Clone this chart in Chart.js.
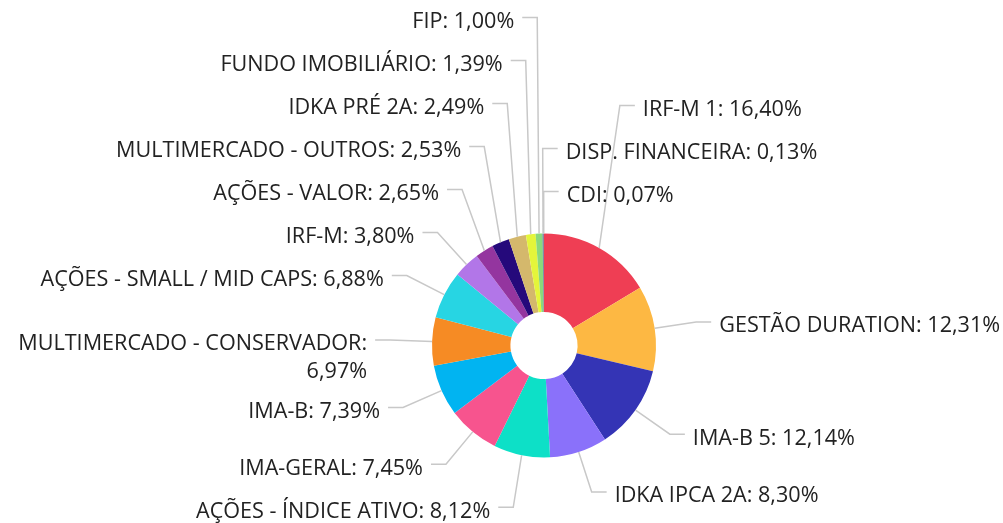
<!DOCTYPE html>
<html>
<head>
<meta charset="utf-8">
<script src="https://cdn.jsdelivr.net/npm/chart.js@4.4.1/dist/chart.umd.min.js"></script>
<style>
  html, body { margin: 0; padding: 0; background: #fff; }
</style>
</head>
<body>
<canvas id="carteiraChart" width="1003" height="523"></canvas>
<script>
// alocacao da carteira por segmento (%)
var segmentos = ['IRF-M 1', 'GESTÃO DURATION', 'IMA-B 5', 'IDKA IPCA 2A', 'AÇÕES - ÍNDICE ATIVO',
    'IMA-GERAL', 'IMA-B', 'MULTIMERCADO - CONSERVADOR', 'AÇÕES - SMALL / MID CAPS', 'IRF-M',
    'AÇÕES - VALOR', 'MULTIMERCADO - OUTROS', 'IDKA PRÉ 2A', 'FUNDO IMOBILIÁRIO', 'FIP',
    'DISP. FINANCEIRA', 'CDI'];
var percentuais = [16.40, 12.31, 12.14, 8.30, 8.12, 7.45, 7.39, 6.97, 6.88, 3.80,
    2.65, 2.53, 2.49, 1.39, 1.00, 0.13, 0.07];
var cores = ['#EF3E54', '#FDB843', '#3434B5', '#8A71FA', '#0DE0C7', '#F7548E', '#01B4F1',
    '#F68B24', '#27D5E3', '#B276E8', '#94359F', '#25097B', '#D4B86C', '#E4F53A', '#8AD97B',
    '#4E5BA6', '#6A6A6A'];

function quebraTexto(ctx, text, maxW) {
    if (ctx.measureText(text).width <= maxW) return [text];
    var words = text.split(' ');
    var lines = [];
    var cur = '';
    words.forEach(function (w) {
        var t = cur ? cur + ' ' + w : w;
        if (cur && ctx.measureText(t).width > maxW) {
            lines.push(cur);
            cur = w;
        } else {
            cur = t;
        }
    });
    if (cur) lines.push(cur);
    return lines;
}

// rotulos externos com linhas de ligacao
var rotulosExternos = {
    id: 'rotulosExternos',
    afterDatasetsDraw: function (chart) {
        var ctx = chart.ctx;
        var meta = chart.getDatasetMeta(0);
        var valores = chart.data.datasets[0].data;
        var W = chart.width;
        var len = 42, len2 = 15, gap = 8, half = 21.5, lineH = 28;
        var cx = 0, cy = 0;
        var items = [];

        ctx.save();
        ctx.font = '21.6px "Open Sans"';

        meta.data.forEach(function (arc, i) {
            var p = arc.getProps(['x', 'y', 'startAngle', 'endAngle', 'outerRadius'], true);
            cx = p.x; cy = p.y;
            var mid = (p.startAngle + p.endAngle) / 2;
            var cos = Math.cos(mid), sin = Math.sin(mid);
            var side = cos > -0.01 ? 1 : -1;
            var text = chart.data.labels[i] + ': ' + valores[i].toFixed(2).replace('.', ',') + '%';
            var bx = p.x + cos * (p.outerRadius + len);
            var tx = bx + side * (len2 + gap);
            var room = side > 0 ? W - tx : tx - 2;
            var lines = quebraTexto(ctx, text, room);
            items.push({
                i: i, side: side, forced: side > 0 && cos < 0,
                ax: p.x + cos * p.outerRadius, ay: p.y + sin * p.outerRadius,
                bx: bx, ny: p.y + sin * (p.outerRadius + len), tx: tx,
                lines: lines, ext: (lines.length - 1) * 24
            });
        });

        // distribui na vertical: do equador para fora
        var order = items.slice().sort(function (a, b) {
            if (a.forced !== b.forced) return a.forced ? -1 : 1;
            if (a.forced) return b.i - a.i;
            return Math.abs(a.ny - cy) - Math.abs(b.ny - cy);
        });
        var placed = [];
        order.forEach(function (it) {
            var up = it.ny < cy;
            var y = it.ny;
            var moved = true;
            while (moved) {
                moved = false;
                for (var k = 0; k < placed.length; k++) {
                    var p = placed[k];
                    if (p.side !== it.side) continue;
                    var top = y - half, bot = y + half + it.ext;
                    var ptop = p.y - half, pbot = p.y + half + p.ext;
                    if (top < pbot - 0.01 && bot > ptop + 0.01) {
                        y = up ? ptop - half - it.ext : pbot + half;
                        moved = true;
                    }
                }
            }
            it.y = y;
            placed.push(it);
        });

        ctx.strokeStyle = '#c8c8c8';
        ctx.lineWidth = 1.5;
        items.forEach(function (it) {
            ctx.beginPath();
            ctx.moveTo(it.ax, it.ay);
            ctx.lineTo(it.bx, it.y);
            ctx.lineTo(it.bx + it.side * len2, it.y);
            ctx.stroke();
        });

        ctx.fillStyle = '#222222';
        ctx.textBaseline = 'alphabetic';
        items.forEach(function (it) {
            ctx.textAlign = it.side > 0 ? 'left' : 'right';
            it.lines.forEach(function (ln, k) {
                ctx.fillText(ln, it.tx, it.y + 10.5 + k * lineH);
            });
        });
        ctx.restore();
    }
};

var ctx = document.getElementById('carteiraChart').getContext('2d');
var myChart = new Chart(ctx, {
    type: 'doughnut',
    data: {
        labels: segmentos,
        datasets: [{
            data: percentuais,
            backgroundColor: cores,
            borderWidth: 0,
            hoverOffset: 0
        }]
    },
    options: {
        responsive: false,
        animation: false,
        radius: 112,
        cutout: '30%',
        layout: {
            padding: { left: 100, right: 15, top: 180, bottom: 12 }
        },
        plugins: {
            legend: { display: false },
            tooltip: { enabled: false }
        }
    },
    plugins: [rotulosExternos]
});
</script>
</body>
</html>
